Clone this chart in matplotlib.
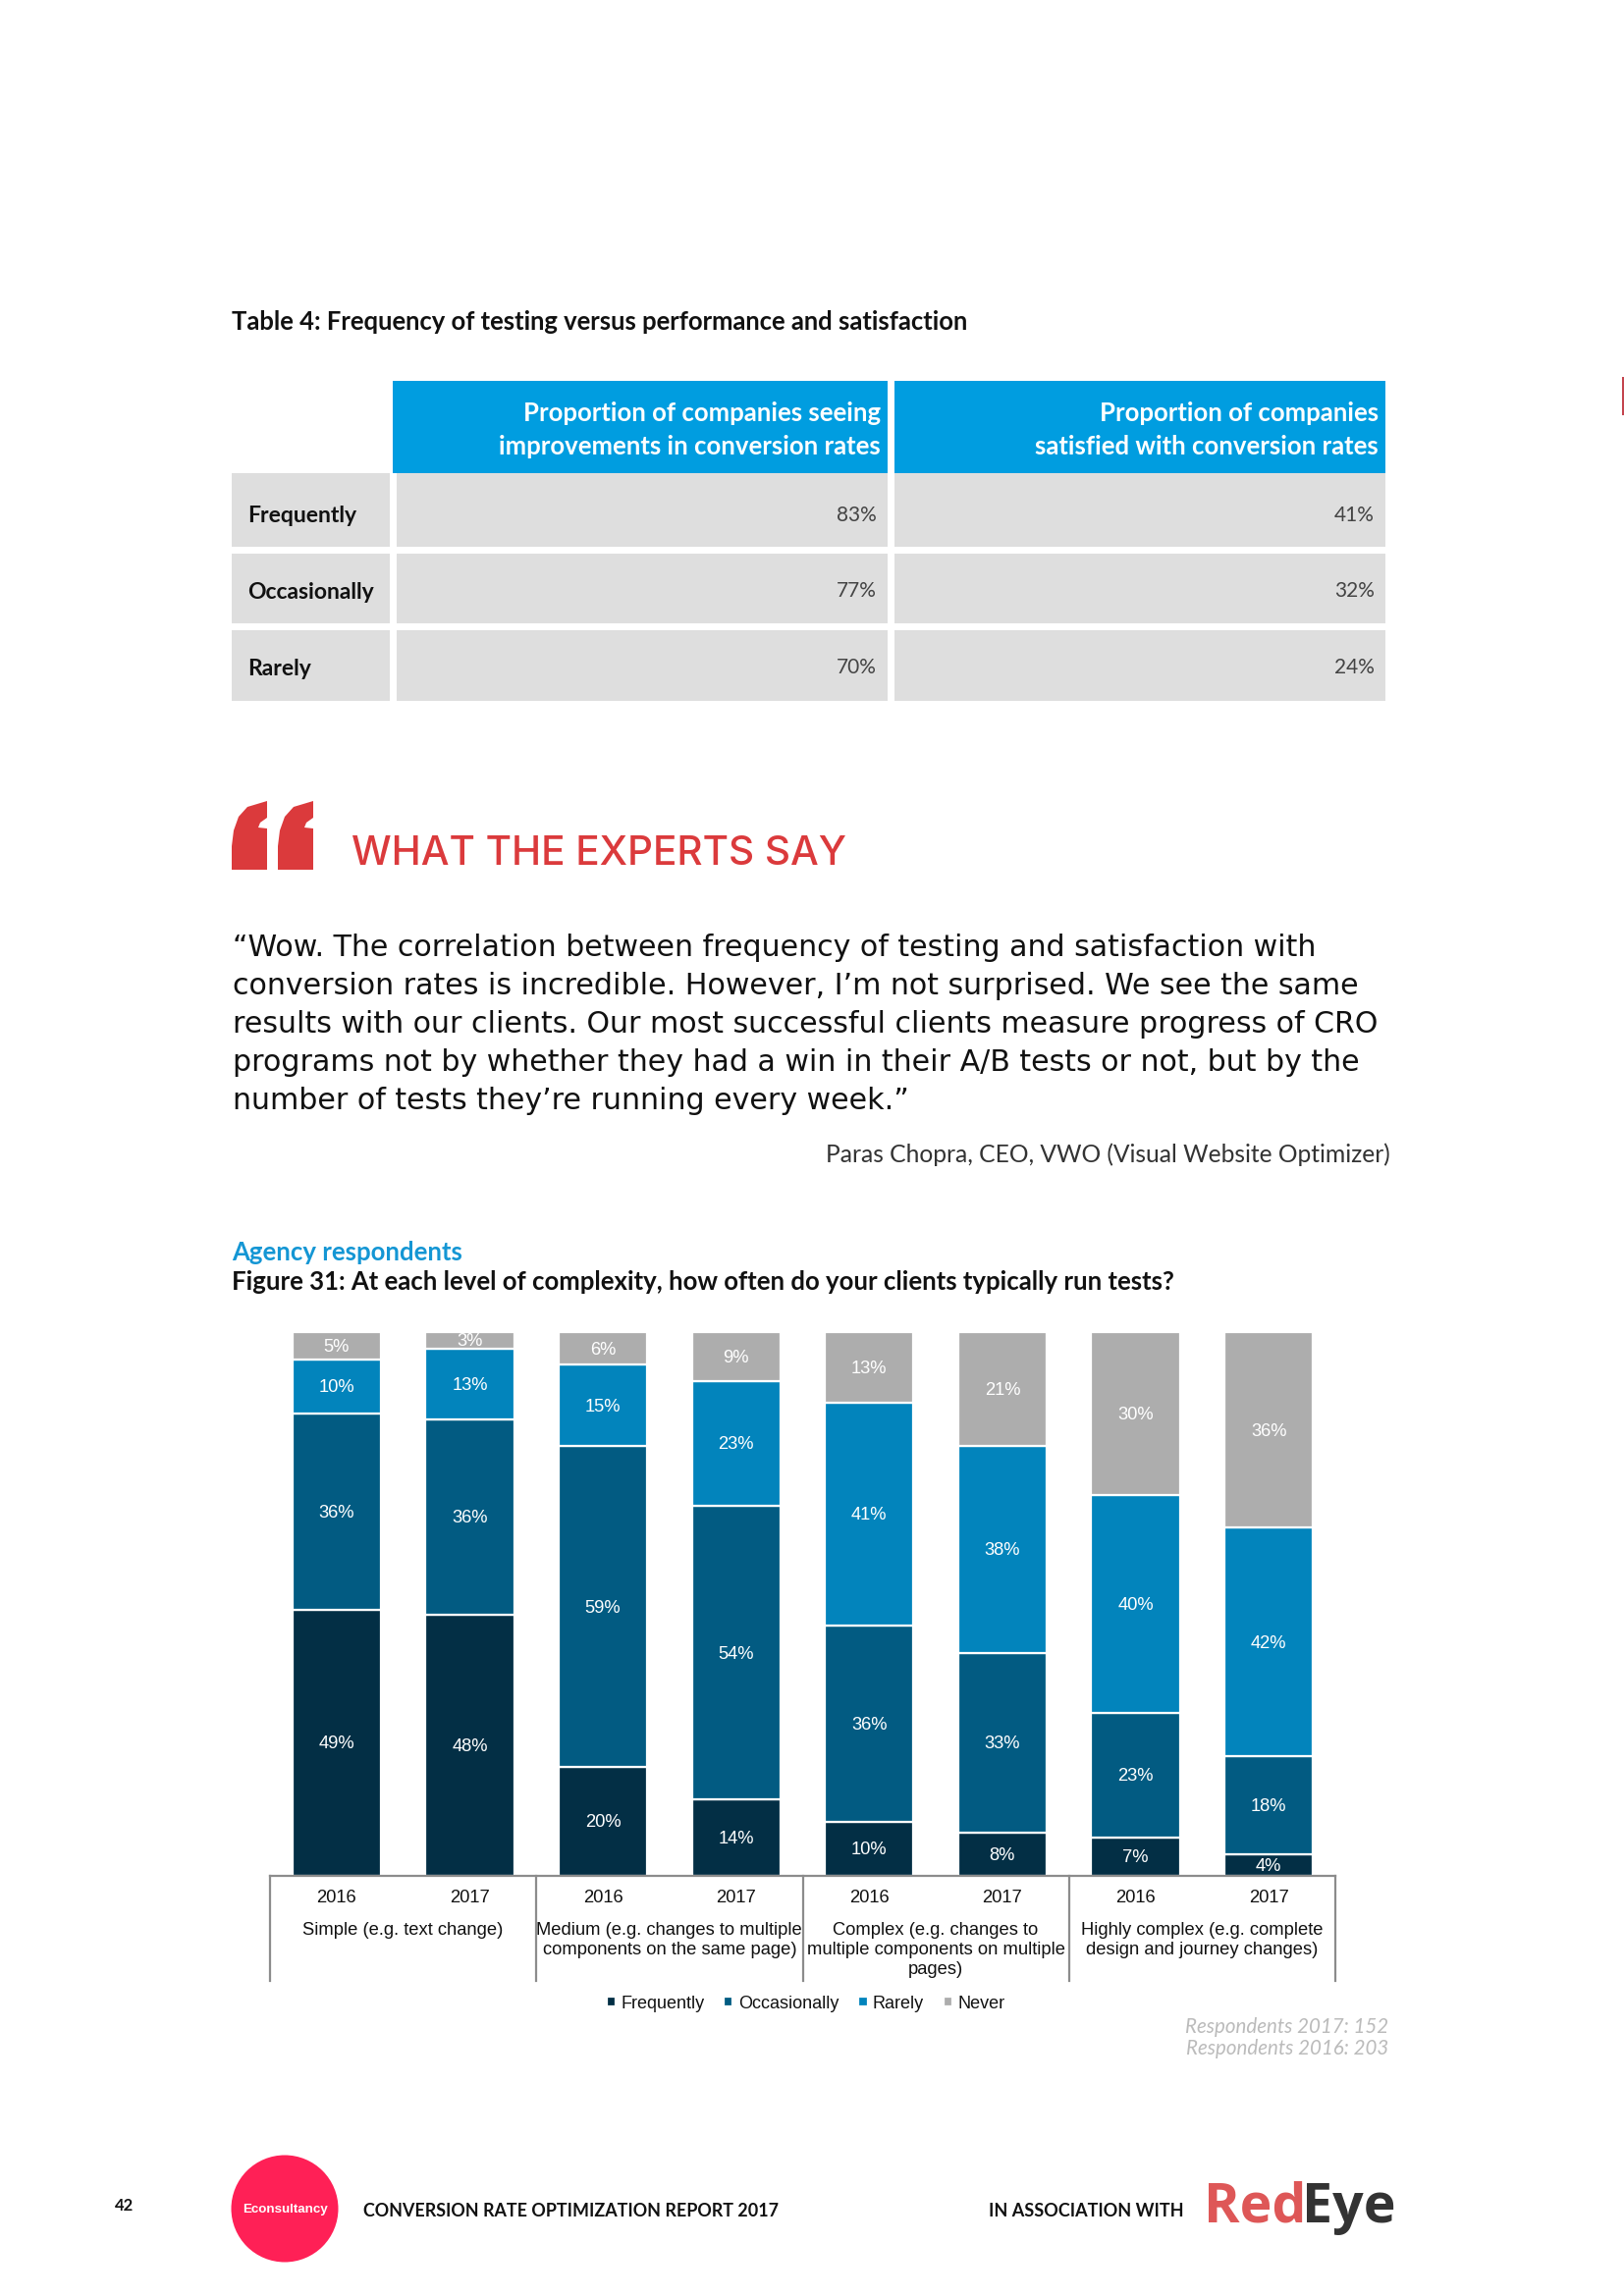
from matplotlib import pyplot as plt
from matplotlib.patches import Rectangle, Circle, Polygon
from matplotlib.transforms import blended_transform_factory

# table values
table_rows = ['Frequently', 'Occasionally', 'Rarely']
table_improving = ['83%', '77%', '70%']
table_satisfied = ['41%', '32%', '24%']

# figure 31 values, one entry per bar
years = ['2016', '2017'] * 4
frequently = [49, 48, 20, 14, 10, 8, 7, 4]
occasionally = [36, 36, 59, 54, 36, 33, 23, 18]
rarely = [10, 13, 15, 23, 41, 38, 40, 42]
never = [5, 3, 6, 9, 13, 21, 30, 36]
complexity = ['Simple (e.g. text change)',
              'Medium (e.g. changes to multiple\ncomponents on the same page)',
              'Complex (e.g. changes to\nmultiple components on multiple\npages)',
              'Highly complex (e.g. complete\ndesign and journey changes)']

quote = ['\u201cWow. The correlation between frequency of testing and satisfaction with',
         'conversion rates is incredible. However, I\u2019m not surprised. We see the same',
         'results with our clients. Our most successful clients measure progress of CRO',
         'programs not by whether they had a win in their A/B tests or not, but by the',
         'number of tests they\u2019re running every week.\u201d']

W, H = 1654, 2339
BODY = 'Lato'
CHART = 'Liberation Sans'

fig = plt.figure(figsize=(W / 100, H / 100), dpi=100, facecolor='white')

# whole page axes in pixels, for the text and boxes around the chart
page = fig.add_axes([0, 0, 1, 1])
page.set_xlim(0, W)
page.set_ylim(H, 0)
page.axis('off')

page.add_patch(Rectangle((1652, 384), 2, 39, color='#C4444E', lw=0))

page.text(236, 328, 'Table 4: Frequency of testing versus performance and satisfaction',
          family=BODY, weight='bold', fontsize=18.45, va='center', color='#111111')

# table
header_blue = '#009DE0'
cell_grey = '#DEDEDE'
page.add_patch(Rectangle((400, 388), 504, 94, color=header_blue, lw=0))
page.add_patch(Rectangle((911, 388), 500, 94, color=header_blue, lw=0))
for x, y, s in [(897, 421, 'Proportion of companies seeing'),
                (897, 455, 'improvements in conversion rates'),
                (1404, 421, 'Proportion of companies'),
                (1404, 455, 'satisfied with conversion rates')]:
    page.text(x, y, s, family=BODY, weight='bold', fontsize=18.5, color='white',
              ha='right', va='center')

row_tops = [482, 564, 642]
row_bottoms = [557, 635, 714]
label_y = [525, 603, 682]
value_y = [525, 602, 680]
for i, name in enumerate(table_rows):
    top, h = row_tops[i], row_bottoms[i] - row_tops[i]
    page.add_patch(Rectangle((236, top), 161, h, color=cell_grey, lw=0))
    page.add_patch(Rectangle((404, top), 500, h, color=cell_grey, lw=0))
    page.add_patch(Rectangle((911, top), 500, h, color=cell_grey, lw=0))
    page.text(252, label_y[i], name, family=BODY, weight='bold', fontsize=16.5,
              color='#111111', va='center')
    page.text(893, value_y[i], table_improving[i], family=BODY,
              fontsize=15, color='#444444', ha='right', va='center')
    page.text(1400, value_y[i], table_satisfied[i], family=BODY,
              fontsize=15, color='#444444', ha='right', va='center')

# quote block
red = '#DB3A3C'
for dx in [0, 47]:
    page.add_patch(Polygon([(236 + dx, 886), (236 + dx, 862), (238 + dx, 846),
                            (243 + dx, 832), (252 + dx, 822), (272 + dx, 816),
                            (272 + dx, 833), (265 + dx, 838), (263 + dx, 843),
                            (272 + dx, 844), (272 + dx, 886)],
                           closed=True, color=red, lw=0))
page.text(358, 870, 'WHAT THE EXPERTS SAY', family='Inter', weight='medium', fontsize=29.2,
          color=red, va='center')
for i, line in enumerate(quote):
    page.text(237, 966 + i * 38.9, line, family='DejaVu Sans', fontsize=21.6,
              color='#111111', va='center')
page.text(1416, 1176, 'Paras Chopra, CEO, VWO (Visual Website Optimizer)', family=BODY,
          fontsize=17.75, color='#333333', ha='right', va='center')

page.text(236, 1276, 'Agency respondents', family=BODY, weight='bold', fontsize=18.5,
          color='#1496D4', va='center')
page.text(236, 1306, 'Figure 31: At each level of complexity, how often do your clients typically run tests?',
          family=BODY, weight='bold', fontsize=18.5, color='#111111', va='center')

# stacked bars
left, right, top, bottom = 275, 1360, 1357, 1911
ax = fig.add_axes([left / W, 1 - bottom / H, (right - left) / W, (bottom - top) / H])
ax.set_xlim(0, 8)
ax.set_ylim(0, 100)
ax.patch.set_alpha(0)

series = [('Frequently', frequently, '#032F45'),
          ('Occasionally', occasionally, '#025B82'),
          ('Rarely', rarely, '#0284BC'),
          ('Never', never, '#ADADAD')]
positions = [i + 0.5 for i in range(8)]
bar_w = 0.665
ax.bar(positions, [100] * 8, bar_w + 0.015, color='#E6E6E6', lw=0, zorder=1)
base = [0] * 8
for name, vals, col in series:
    bars = ax.bar(positions, vals, bar_w, bottom=base, color=col, edgecolor='white',
                  linewidth=1.6, label=name, zorder=2)
    labels = ax.bar_label(bars, labels=[f'{v}%' for v in vals], label_type='center', color='white',
                          family=CHART, fontsize=13.2, zorder=3)
    for t in labels:
        t.xyann = (0, -1)
    base = [b + v for b, v in zip(base, vals)]

for s in ['top', 'left', 'right']:
    ax.spines[s].set_visible(False)
ax.spines['bottom'].set_color('#8C8C8C')
ax.spines['bottom'].set_linewidth(1.6)
ax.set_yticks([])
ax.set_xticks(positions, years, family=CHART, fontsize=13.2, color='#111111')
ax.tick_params(axis='x', length=0, pad=10)

# group separators and group names below the axis
trans = blended_transform_factory(ax.transData, ax.transAxes)
for g in range(5):
    ax.plot([g * 2, g * 2], [0, -107 / (bottom - top)], color='#8C8C8C', lw=1.6,
            transform=trans, clip_on=False)
for g, name in enumerate(complexity):
    ax.text(g * 2 + 1, -47 / (bottom - top), name, transform=trans, family=CHART, fontsize=13.2,
            color='#111111', ha='center', va='top', linespacing=1.24)

ax.legend(loc='center', bbox_to_anchor=(0.503, -130 / (bottom - top)), ncol=4, frameon=False,
          prop={'family': CHART, 'size': 13}, labelcolor='#111111', handlelength=0.5,
          handleheight=0.5, handletextpad=0.3, columnspacing=1.12, borderpad=0)

for y, s in [(2065, 'Respondents 2017: 152'), (2087, 'Respondents 2016: 203')]:
    page.text(1414, y, s, family=BODY, style='italic', fontsize=14.8,
              color='#BBBBBB', ha='right', va='center')

# footer
page.text(127, 2247, '42', family=BODY, weight='bold', fontsize=12, color='#111111',
          ha='center', va='center')
page.add_patch(Circle((290, 2250), 54.5, color='#FF2056', lw=0))
page.text(290, 2251, 'Econsultancy', family=CHART, weight='bold', fontsize=9.6, color='white',
          ha='center', va='center')
page.text(370, 2252, 'CONVERSION RATE OPTIMIZATION REPORT 2017', family=BODY, weight='bold',
          fontsize=12.9, color='#111111', va='center')
page.text(1007, 2252, 'IN ASSOCIATION WITH', family=BODY, weight='bold', fontsize=13,
          color='#111111', va='center')
page.text(1226, 2264, 'Red', family='Open Sans', weight='bold', fontsize=40, color='#DE5757',
          va='baseline')
page.text(1326, 2264, 'Eye', family='Open Sans', weight='bold', fontsize=40, color='#333333',
          va='baseline')

fig.savefig('out.png', dpi=100, facecolor='white')
